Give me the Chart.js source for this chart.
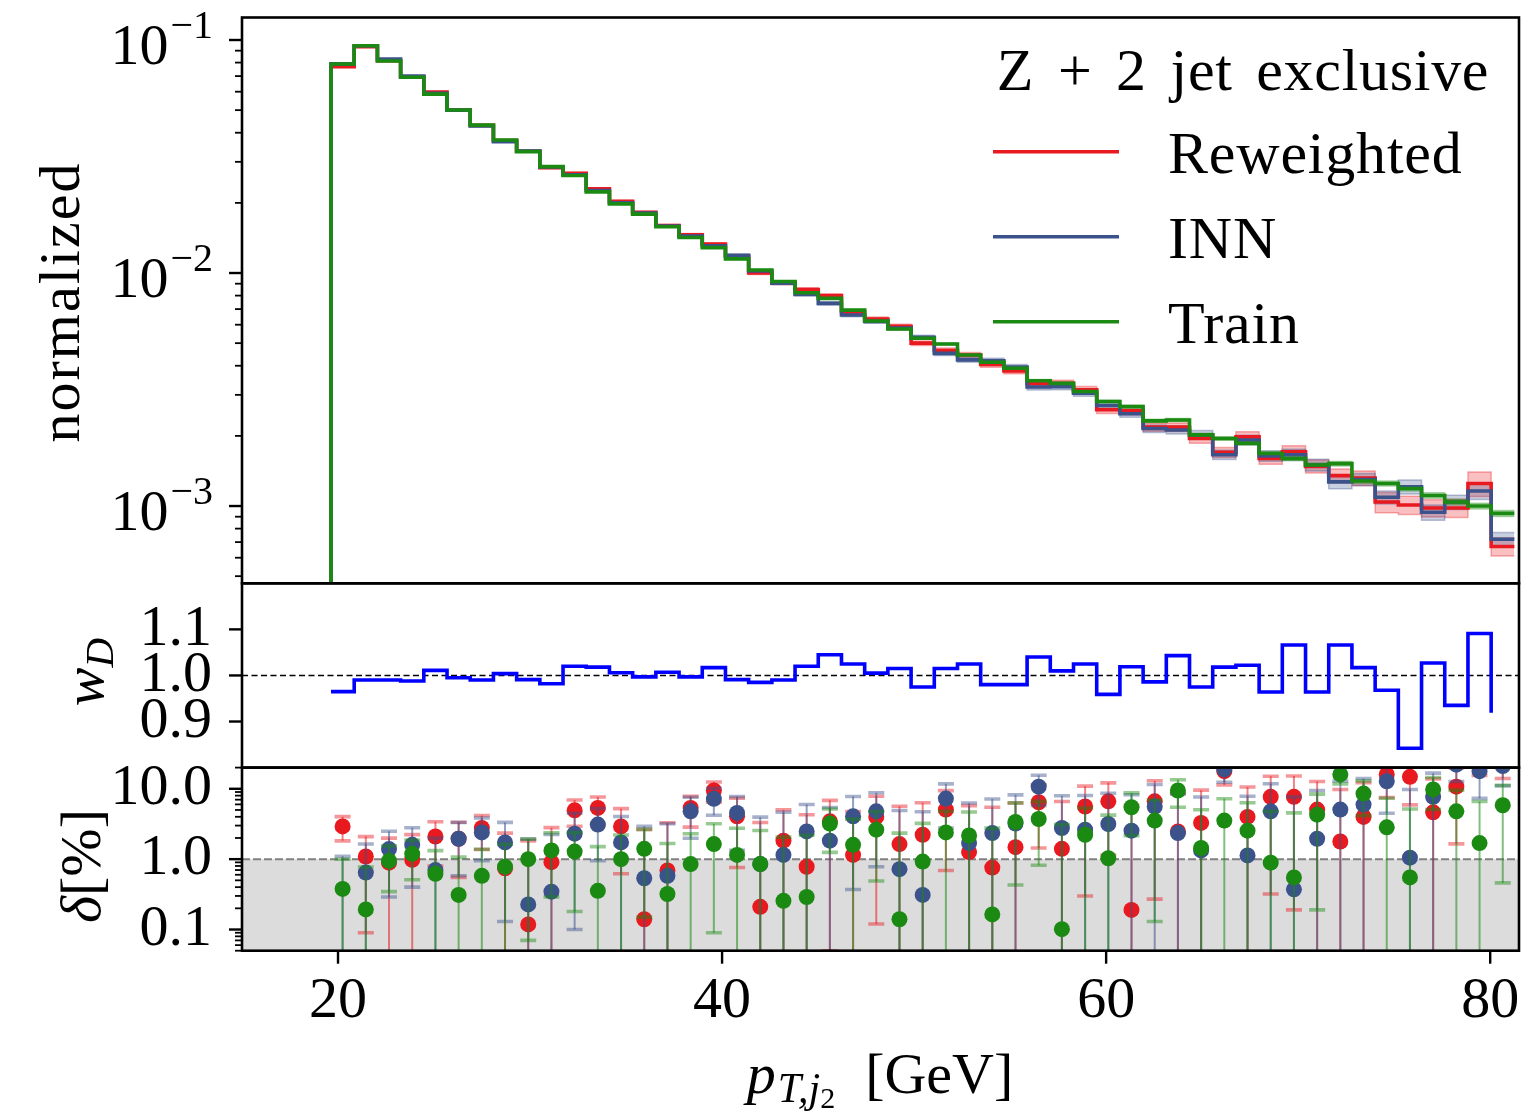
<!DOCTYPE html>
<html>
<head>
<meta charset="utf-8">
<script src="https://cdn.jsdelivr.net/npm/chart.js@4.4.1/dist/chart.umd.min.js"></script>
<style>
html,body{margin:0;padding:0;background:#fff;}
#wrap{position:relative;width:1527px;height:1115px;overflow:hidden;}
#wrap canvas{position:absolute;left:0;top:0;}
</style>
</head>
<body>
<div id="wrap">
<canvas id="cTop" width="1527" height="1115"></canvas>
<canvas id="cMid" width="1527" height="1115"></canvas>
<canvas id="cBot" width="1527" height="1115"></canvas>
</div>
<script>
// ---------------- DATA ----------------
const binEdges = [19.635, 20.843, 22.052, 23.260, 24.468, 25.677, 26.885, 28.093, 29.301, 30.510,
  31.718, 32.926, 34.135, 35.343, 36.551, 37.760, 38.968, 40.176, 41.384, 42.593,
  43.801, 45.009, 46.218, 47.426, 48.634, 49.843, 51.051, 52.259, 53.467, 54.676,
  55.884, 57.092, 58.301, 59.509, 60.717, 61.926, 63.134, 64.342, 65.550, 66.759,
  67.967, 69.175, 70.384, 71.592, 72.800, 74.009, 75.217, 76.425, 77.633, 78.842,
  80.050, 81.258];

const seriesNames = ['Reweighted', 'INN', 'Train'];
const legendTitle = 'Z + 2 jet exclusive';

// histogram floor (the step outline starts from an empty bin)
const histFloor = 1e-6;

const reweighted = [0.0768, 0.0935, 0.0815, 0.0695, 0.0598, 0.0500, 0.0430, 0.0370, 0.0333, 0.0283,
  0.0268, 0.0230, 0.0203, 0.0182, 0.0160, 0.0146, 0.0133, 0.0118, 0.0100, 0.00905,
  0.0085, 0.0080, 0.0068, 0.00635, 0.0059, 0.0050, 0.00465, 0.00445, 0.00405, 0.0038,
  0.00335, 0.00336, 0.00315, 0.00259, 0.00256, 0.00218, 0.00218, 0.00195, 0.0017, 0.00198,
  0.0016, 0.00171, 0.00148, 0.00135, 0.00132, 0.00104, 0.00101, 0.00098, 0.00098, 0.00125,
  0.00067];
const inn = [0.0790, 0.0945, 0.0829, 0.0700, 0.0590, 0.0500, 0.0428, 0.0366, 0.0334, 0.0285,
  0.0264, 0.0226, 0.0200, 0.0181, 0.0159, 0.0144, 0.0131, 0.0119, 0.0102, 0.00905,
  0.0081, 0.00741, 0.0066, 0.0062, 0.0058, 0.0053, 0.00452, 0.00424, 0.0042, 0.00395,
  0.00324, 0.00325, 0.00305, 0.0027, 0.00249, 0.00215, 0.00212, 0.00202, 0.00166, 0.00192,
  0.00164, 0.00166, 0.0015, 0.00127, 0.0013, 0.00109, 0.00121, 0.00094, 0.00104, 0.00116,
  0.00072];
const train = [0.0789, 0.0945, 0.0813, 0.0692, 0.0586, 0.0501, 0.0431, 0.0372, 0.0332, 0.0286,
  0.0262, 0.0223, 0.0198, 0.0179, 0.0158, 0.0142, 0.01285, 0.0115, 0.0103, 0.00919,
  0.00823, 0.00778, 0.00693, 0.00622, 0.00575, 0.00525, 0.00496, 0.00445, 0.00414, 0.0039,
  0.00345, 0.00336, 0.0031, 0.00281, 0.00267, 0.00232, 0.00234, 0.00202, 0.00195, 0.00186,
  0.00168, 0.0016, 0.0015, 0.00152, 0.00128, 0.00125, 0.00119, 0.00111, 0.00104, 0.0010,
  0.00093];

// relative half-widths of the uncertainty bands
const relErrRew = [0.004,0.004,0.004,0.005,0.005,0.005,0.006,0.006,0.007,0.007,
  0.008,0.008,0.009,0.009,0.010,0.011,0.012,0.013,0.014,0.015,
  0.016,0.017,0.018,0.020,0.021,0.022,0.024,0.025,0.027,0.028,
  0.030,0.032,0.034,0.036,0.038,0.040,0.043,0.046,0.049,0.052,
  0.056,0.060,0.064,0.068,0.072,0.100,0.090,0.085,0.090,0.120,0.090];
const relErrInn = [0.003,0.003,0.003,0.004,0.004,0.004,0.005,0.005,0.006,0.006,
  0.007,0.007,0.008,0.008,0.009,0.010,0.011,0.012,0.013,0.014,
  0.015,0.016,0.017,0.018,0.019,0.020,0.022,0.023,0.025,0.026,
  0.028,0.030,0.031,0.033,0.035,0.037,0.040,0.043,0.046,0.049,
  0.052,0.055,0.058,0.065,0.060,0.065,0.070,0.075,0.070,0.080,0.070];
const relErrTrain = [0.001,0.001,0.001,0.001,0.001,0.002,0.002,0.002,0.002,0.002,
  0.003,0.003,0.003,0.003,0.004,0.004,0.004,0.005,0.005,0.005,
  0.006,0.006,0.007,0.007,0.008,0.008,0.009,0.009,0.010,0.010,
  0.011,0.012,0.012,0.013,0.014,0.015,0.015,0.016,0.017,0.018,
  0.019,0.020,0.021,0.022,0.023,0.024,0.025,0.026,0.027,0.028,0.030];

const wD = [0.965, 0.990, 0.990, 0.988, 1.011, 0.995, 0.990, 1.004, 0.991, 0.982,
  1.020, 1.018, 1.006, 0.997, 1.007, 0.997, 1.017, 0.991, 0.985, 0.990,
  1.020, 1.045, 1.025, 1.005, 1.015, 0.975, 1.015, 1.025, 0.980, 0.980,
  1.040, 1.010, 1.025, 0.959, 1.019, 0.986, 1.043, 0.975, 1.018, 1.022,
  0.964, 1.066, 0.964, 1.066, 1.017, 0.968, 0.842, 1.027, 0.935, 1.091,
  0.919];

const deltaRew = [2.92, 1.09, 0.89, 0.98, 2.10, 1.95, 2.77, 0.74, 0.118, 0.905,
  4.94, 5.35, 2.92, 0.14, 0.69, 5.35, 9.46, 4.06, 0.21, 1.83,
  0.78, 3.45, 1.15, 3.98, 1.64, 2.22, 5.06, 1.26, 0.76, 1.48,
  6.44, 1.40, 5.60, 6.64, 0.19, 6.64, 2.48, 3.27, 17.8, 3.98,
  7.69, 7.69, 5.06, 1.78, 3.98, 16.0, 14.8, 4.63, 10.7, 25,
  24];
const deltaRewErr = [1.1, 1.0, 1.1, 1.25, 1.3, 1.4, 1.4, 1.6, 1.7, 1.9,
  2.0, 2.3, 2.3, 2.5, 2.6, 2.5, 3.0, 3.3, 3.1, 3.2,
  3.5, 3.4, 3.6, 3.86, 4.0, 4.1, 4.37, 4.5, 4.7, 4.8,
  5.0, 5.2, 5.3, 5.5, 5.6, 6.37, 6.1, 6.3, 6.5, 6.6,
  7.37, 7.5, 7.6, 8.0, 8.2, 8.5, 8.9, 9.2, 9.05, 9.5,
  10];
const deltaInn = [0.03, 0.644, 1.39, 1.60, 0.70, 1.95, 2.40, 1.73, 0.227, 0.345,
  2.30, 3.10, 1.73, 0.535, 0.58, 4.78, 7.20, 4.54, 0.85, 1.15,
  2.48, 1.83, 4.06, 4.78, 0.72, 0.31, 7.26, 1.69, 2.35, 3.20,
  10.7, 2.77, 2.62, 3.16, 2.54, 5.60, 2.35, 1.33, 18.9, 1.13,
  4.78, 0.373, 1.95, 5.06, 5.96, 12.8, 1.05, 7.69, 22, 17.8,
  21];
const deltaInnErr = [1.07, 1.0, 1.1, 1.2, 1.3, 1.37, 1.45, 1.6, 1.7, 1.9,
  2.2, 2.15, 2.3, 2.4, 2.6, 2.8, 3.0, 3.2, 3.1, 3.5,
  3.5, 3.6, 3.69, 4.0, 4.2, 4.4, 4.5, 4.6, 4.8, 5.0,
  4.9, 5.2, 5.4, 5.5, 5.7, 5.9, 6.1, 6.3, 6.5, 6.7,
  7.0, 7.3, 7.5, 7.8, 8.0, 8.3, 8.7, 9.0, 9.3, 10.5,
  10];
const deltaTrain = [0.377, 0.193, 0.945, 1.19, 0.62, 0.31, 0.58, 0.78, 1.0, 1.33,
  1.28, 0.355, 1.0, 1.4, 0.32, 0.85, 1.64, 1.15, 0.85, 0.256,
  0.29, 3.2, 1.6, 2.62, 0.14, 0.925, 2.4, 2.17, 0.164, 3.37,
  3.72, 0.101, 2.22, 1.03, 5.46, 3.53, 9.46, 1.44, 3.53, 2.54,
  0.89, 0.55, 4.29, 16.0, 8.55, 2.83, 0.55, 9.78, 4.78, 1.69,
  5.83];
const deltaTrainErr = [0.62, 0.58, 0.6, 0.68, 0.7, 0.76, 0.8, 0.85, 0.93, 1.04,
  1.1, 1.15, 1.2, 1.25, 1.35, 1.45, 1.55, 1.6, 1.7, 1.8,
  1.9, 1.95, 2.1, 2.13, 2.2, 2.3, 2.4, 2.5, 2.6, 2.94,
  2.9, 3.0, 3.1, 3.2, 3.3, 3.4, 4.0, 3.6, 3.7, 3.8,
  3.9, 4.0, 4.1, 4.3, 4.4, 4.5, 4.6, 4.7, 4.8, 4.9,
  5.37];

const xTicks = [20, 40, 60, 80];
const xTickLabels = ['20', '40', '60', '80'];
const topMajorTicks = [1e-1, 1e-2, 1e-3];
const topTickExponents = ['\u22121', '\u22122', '\u22123'];
const midTicks = [0.9, 1.0, 1.1];
const midTickLabels = ['0.9', '1.0', '1.1'];
const botTicks = [0.1, 1.0, 10.0];
const botTickLabels = ['0.1', '1.0', '10.0'];

// ---------------- STYLE / LAYOUT ----------------
const FONT = "'Liberation Serif', 'DejaVu Serif', serif";
const FS = 58;
const FS_LEG = 60;
const C_RED = '#e8191f', C_BLUE = '#3b528b', C_GREEN = '#1b8a12', C_WD = '#0000ff';
const W = 1527, H = 1115;
const PLOT_L = 242, PLOT_R = 1519;
const TOP_Y0 = 17.5, TOP_Y1 = 583.3, MID_Y1 = 767.6, BOT_Y1 = 950.7;
const X_MIN = 15.0, X_MAX = 81.5;

Chart.defaults.font.family = FONT;
Chart.defaults.color = '#000';

function rgba(hex, a) {
  const n = parseInt(hex.slice(1), 16);
  return `rgba(${(n >> 16) & 255},${(n >> 8) & 255},${n & 255},${a})`;
}
function stepData(vals) {
  const pts = vals.map((v, i) => ({x: binEdges[i], y: v}));
  pts.push({x: binEdges[vals.length], y: vals[vals.length - 1]});
  return pts;
}
function fixY(s) { s.width = PLOT_L; s.paddingTop = 0; s.paddingBottom = 0; s.paddingLeft = 0; s.paddingRight = 0; }
function fixXHidden(s) { s.height = 0; s.paddingLeft = 0; s.paddingRight = 0; s.paddingTop = 0; s.paddingBottom = 0; }
function setTicks(list) { return s => { s.ticks = list.map(v => ({value: v})); }; }
function logMinors(min, max) {
  const out = [];
  for (let e = Math.floor(Math.log10(min)); e <= Math.ceil(Math.log10(max)); e++) {
    for (let m = 2; m <= 9; m++) { const v = m * Math.pow(10, e); if (v >= min && v <= max) out.push(v); }
  }
  return out;
}
function drawFrame(chart) {
  const {ctx, chartArea: a} = chart;
  ctx.save(); ctx.strokeStyle = '#000'; ctx.lineWidth = 2.6;
  ctx.strokeRect(a.left, a.top, a.right - a.left, a.bottom - a.top);
  ctx.restore();
}
function drawYTicks(chart, majors, minors) {
  const {ctx, chartArea: a} = chart; const ys = chart.scales.y;
  ctx.save(); ctx.strokeStyle = '#000';
  ctx.lineWidth = 2.4;
  majors.forEach(v => { const y = ys.getPixelForValue(v); ctx.beginPath(); ctx.moveTo(a.left - 13, y); ctx.lineTo(a.left, y); ctx.stroke(); });
  ctx.lineWidth = 1.8;
  minors.forEach(v => { const y = ys.getPixelForValue(v); ctx.beginPath(); ctx.moveTo(a.left - 7, y); ctx.lineTo(a.left, y); ctx.stroke(); });
  ctx.restore();
}
function drawRuns(ctx, runs, x, y, align) {
  let total = 0;
  runs.forEach(r => { ctx.font = `${r.italic ? 'italic ' : ''}${r.size}px ${FONT}`; r.w = ctx.measureText(r.t).width; total += r.w + (r.gap || 0); });
  let cx = align === 'center' ? x - total / 2 : (align === 'right' ? x - total : x);
  ctx.textAlign = 'left'; ctx.textBaseline = 'alphabetic';
  runs.forEach(r => { ctx.font = `${r.italic ? 'italic ' : ''}${r.size}px ${FONT}`; ctx.fillText(r.t, cx, y + (r.dy || 0)); cx += r.w + (r.gap || 0); });
}
function drawRotated(ctx, runs, bx, cy, spacing) {
  ctx.save(); ctx.translate(bx, cy); ctx.rotate(-Math.PI / 2); ctx.fillStyle = '#000';
  if (spacing) ctx.letterSpacing = spacing;
  drawRuns(ctx, runs, 0, 0, 'center'); ctx.restore();
}

// ---------------- TOP PANEL ----------------
const topSeries = [
  {name: seriesNames[0], vals: reweighted, rel: relErrRew, color: C_RED, order: 3},
  {name: seriesNames[1], vals: inn, rel: relErrInn, color: C_BLUE, order: 2},
  {name: seriesNames[2], vals: train, rel: relErrTrain, color: C_GREEN, order: 1}
];
const topDatasets = [];
topSeries.forEach((s, k) => {
  topDatasets.push({label: s.name + ' up', data: stepData(s.vals.map((v, i) => v * (1 + s.rel[i]))),
    stepped: true, borderColor: rgba(s.color, 0.35), borderWidth: 1.5, pointRadius: 0,
    backgroundColor: rgba(s.color, 0.28), fill: '+1', order: 20 - k * 2});
  topDatasets.push({label: s.name + ' down', data: stepData(s.vals.map((v, i) => v * (1 - s.rel[i]))),
    stepped: true, borderColor: rgba(s.color, 0.35), borderWidth: 1.5, pointRadius: 0, fill: false, order: 19 - k * 2});
});
topSeries.forEach(s => {
  topDatasets.push({label: s.name, data: [{x: binEdges[0], y: histFloor}].concat(stepData(s.vals)),
    stepped: true, borderColor: s.color, borderWidth: 3.6, pointRadius: 0, fill: false, order: s.order,
    clip: {left: 5, right: 5, top: 5, bottom: 0},
    isMain: true, legendColor: s.color});
});

const topDecor = {
  id: 'topDecor',
  afterDraw(chart) {
    const {ctx, chartArea: a} = chart; const ys = chart.scales.y;
    drawFrame(chart);
    drawYTicks(chart, topMajorTicks, logMinors(ys.min, ys.max));
    // tick labels 10^-n
    ctx.save(); ctx.fillStyle = '#000'; ctx.textBaseline = 'alphabetic'; ctx.textAlign = 'left';
    topMajorTicks.forEach((v, i) => {
      const y = ys.getPixelForValue(v);
      ctx.font = `40px ${FONT}`; const ws = ctx.measureText(topTickExponents[i]).width;
      ctx.font = `${FS}px ${FONT}`; const wb = ctx.measureText('10').width;
      const xr = 213; const x0 = xr - ws - wb - 2;
      ctx.fillText('10', x0, y + 24);
      ctx.font = `40px ${FONT}`; ctx.fillText(topTickExponents[i], x0 + wb + 2, y - 2);
    });
    ctx.restore();
    // y title
    drawRotated(ctx, [{t: 'normalized', size: FS}], 79, 302, '2px');
    // legend
    ctx.save(); ctx.fillStyle = '#000';
    ctx.font = `${FS_LEG}px ${FONT}`; ctx.textAlign = 'center'; ctx.textBaseline = 'alphabetic';
    ctx.letterSpacing = '0.7px'; ctx.wordSpacing = '8px';
    ctx.fillText(legendTitle, 1243, 90);
    ctx.wordSpacing = '0px';
    const rows = [151.7, 236.7, 321.7];
    chart.data.datasets.filter(d => d.isMain).forEach((d, i) => {
      ctx.strokeStyle = d.legendColor; ctx.lineWidth = 3.6;
      ctx.beginPath(); ctx.moveTo(993, rows[i]); ctx.lineTo(1119, rows[i]); ctx.stroke();
      ctx.textAlign = 'left'; ctx.font = `${FS_LEG}px ${FONT}`; ctx.letterSpacing = '0.8px';
      ctx.fillText(d.label, 1168, rows[i] + 21.6);
    });
    ctx.restore();
  }
};

new Chart(document.getElementById('cTop'), {
  type: 'line',
  data: {datasets: topDatasets},
  options: {
    responsive: false, animation: false, devicePixelRatio: 1, events: [],
    layout: {padding: {left: 0, right: W - PLOT_R, top: TOP_Y0, bottom: H - TOP_Y1}},
    plugins: {legend: {display: false}, tooltip: {enabled: false}},
    scales: {
      x: {type: 'linear', min: X_MIN, max: X_MAX, display: false, afterFit: fixXHidden},
      y: {type: 'logarithmic', min: 4.66e-4, max: 0.1249, afterFit: fixY,
        afterBuildTicks: setTicks(topMajorTicks),
        grid: {display: false, drawTicks: false}, border: {display: false},
        ticks: {display: false}}
    }
  },
  plugins: [topDecor]
});

// ---------------- MIDDLE PANEL ----------------
const midDecor = {
  id: 'midDecor',
  beforeDatasetsDraw(chart) {
    const {ctx, chartArea: a} = chart; const y = chart.scales.y.getPixelForValue(1.0);
    ctx.save(); ctx.strokeStyle = '#000'; ctx.lineWidth = 1.6; ctx.setLineDash([6, 3.5]);
    ctx.beginPath(); ctx.moveTo(a.left, y); ctx.lineTo(a.right, y); ctx.stroke(); ctx.restore();
  },
  afterDraw(chart) {
    drawFrame(chart);
    drawYTicks(chart, midTicks, []);
    drawRotated(chart.ctx, [{t: 'w', size: FS, italic: true}, {t: 'D', size: 41, italic: true, dy: 10}], 103, 672);
  }
};
new Chart(document.getElementById('cMid'), {
  type: 'line',
  data: {datasets: [{label: 'wD', data: wD.map((v, i) => ({x: binEdges[i], y: v})), stepped: true,
    borderColor: C_WD, borderWidth: 3.6, pointRadius: 0, fill: false}]},
  options: {
    responsive: false, animation: false, devicePixelRatio: 1, events: [],
    layout: {padding: {left: 0, right: W - PLOT_R, top: TOP_Y1, bottom: H - MID_Y1}},
    plugins: {legend: {display: false}, tooltip: {enabled: false}},
    scales: {
      x: {type: 'linear', min: X_MIN, max: X_MAX, display: false, afterFit: fixXHidden},
      y: {type: 'linear', min: 0.8, max: 1.2, afterFit: fixY, afterBuildTicks: setTicks(midTicks),
        grid: {display: false, drawTicks: false}, border: {display: false},
        ticks: {autoSkip: false, padding: 30, font: {size: FS, family: FONT}, color: '#000',
          callback: (v, i) => midTickLabels[i]}}
    }
  },
  plugins: [midDecor]
});

// ---------------- BOTTOM PANEL ----------------
const binCenters = binEdges.slice(0, -1).map((e, i) => (e + binEdges[i + 1]) / 2);
const botSeries = [
  {name: seriesNames[0], vals: deltaRew, err: deltaRewErr, color: C_RED, order: 3},
  {name: seriesNames[1], vals: deltaInn, err: deltaInnErr, color: C_BLUE, order: 2},
  {name: seriesNames[2], vals: deltaTrain, err: deltaTrainErr, color: C_GREEN, order: 1}
];
const botDatasets = botSeries.map(s => ({
  label: s.name, data: s.vals.map((v, i) => ({x: binCenters[i], y: v})), err: s.err, baseColor: s.color,
  type: 'scatter', showLine: false, pointRadius: 8, pointBackgroundColor: s.color, pointBorderWidth: 0,
  borderColor: s.color, order: s.order, clip: 0
}));
const botDecor = {
  id: 'botDecor',
  beforeDatasetsDraw(chart) {
    const {ctx, chartArea: a} = chart; const y = chart.scales.y.getPixelForValue(1.0);
    ctx.save();
    ctx.fillStyle = '#dcdcdc'; ctx.fillRect(a.left, y, a.right - a.left, a.bottom - y);
    ctx.strokeStyle = '#808080'; ctx.lineWidth = 2; ctx.setLineDash([8, 3]);
    ctx.beginPath(); ctx.moveTo(a.left, y); ctx.lineTo(a.right, y); ctx.stroke();
    ctx.restore();
  },
  beforeDatasetDraw(chart, args) {
    const ds = chart.data.datasets[args.index]; if (!ds.err) return;
    const {ctx, chartArea: a} = chart; const xs = chart.scales.x, ys = chart.scales.y;
    ctx.save(); ctx.beginPath(); ctx.rect(a.left, a.top, a.right - a.left, a.bottom - a.top); ctx.clip();
    ds.data.forEach((p, i) => {
      const e = ds.err[i]; const x = xs.getPixelForValue(p.x);
      const hi = p.y + e, lo = p.y - e;
      const yhi = ys.getPixelForValue(hi);
      const ylo = lo > 0 ? ys.getPixelForValue(lo) : a.bottom + 10;
      ctx.strokeStyle = rgba(ds.baseColor, 0.55); ctx.lineWidth = 2;
      ctx.beginPath(); ctx.moveTo(x, ylo); ctx.lineTo(x, yhi); ctx.stroke();
      ctx.strokeStyle = rgba(ds.baseColor, 0.45); ctx.lineWidth = 3.6;
      ctx.beginPath(); ctx.moveTo(x - 8, yhi); ctx.lineTo(x + 8, yhi); ctx.stroke();
      if (lo > 0) { ctx.beginPath(); ctx.moveTo(x - 8, ylo); ctx.lineTo(x + 8, ylo); ctx.stroke(); }
    });
    ctx.restore();
  },
  afterDraw(chart) {
    const {ctx, chartArea: a} = chart; const ys = chart.scales.y; const xs = chart.scales.x;
    drawFrame(chart);
    drawYTicks(chart, botTicks, logMinors(ys.min, ys.max));
    ctx.save(); ctx.strokeStyle = '#000'; ctx.lineWidth = 2.4;
    xTicks.forEach(v => { const x = xs.getPixelForValue(v); ctx.beginPath(); ctx.moveTo(x, a.bottom); ctx.lineTo(x, a.bottom + 13); ctx.stroke(); });
    ctx.restore();
    ctx.save(); ctx.fillStyle = '#000';
    drawRotated(ctx, [{t: '\u03b4', size: FS, italic: true}, {t: '[%]', size: FS}], 100, 866);
    drawRuns(ctx, [{t: 'p', size: FS, italic: true, gap: 2}, {t: 'T,j', size: 42, italic: true, dy: 9},
      {t: '2', size: 30, dy: 15, gap: 30}, {t: '[GeV]', size: FS}], 880, 1093, 'center');
    ctx.restore();
  }
};
new Chart(document.getElementById('cBot'), {
  type: 'scatter',
  data: {datasets: botDatasets},
  options: {
    responsive: false, animation: false, devicePixelRatio: 1, events: [],
    layout: {padding: {left: 0, right: W - PLOT_R, top: MID_Y1, bottom: 0}},
    plugins: {legend: {display: false}, tooltip: {enabled: false}},
    scales: {
      x: {type: 'linear', min: X_MIN, max: X_MAX, afterFit: s => { s.height = H - BOT_Y1; s.paddingLeft = 0; s.paddingRight = 0; },
        afterBuildTicks: setTicks(xTicks),
        grid: {display: false, drawTicks: false}, border: {display: false},
        ticks: {autoSkip: false, maxRotation: 0, padding: 16, font: {size: FS, family: FONT}, color: '#000',
          callback: (v, i) => xTickLabels[i]}},
      y: {type: 'logarithmic', min: 0.05, max: 20, afterFit: fixY, afterBuildTicks: setTicks(botTicks),
        grid: {display: false, drawTicks: false}, border: {display: false},
        ticks: {autoSkip: false, padding: 30, font: {size: FS, family: FONT}, color: '#000',
          callback: (v, i) => botTickLabels[i]}}
    }
  },
  plugins: [botDecor]
});
</script>
</body>
</html>
